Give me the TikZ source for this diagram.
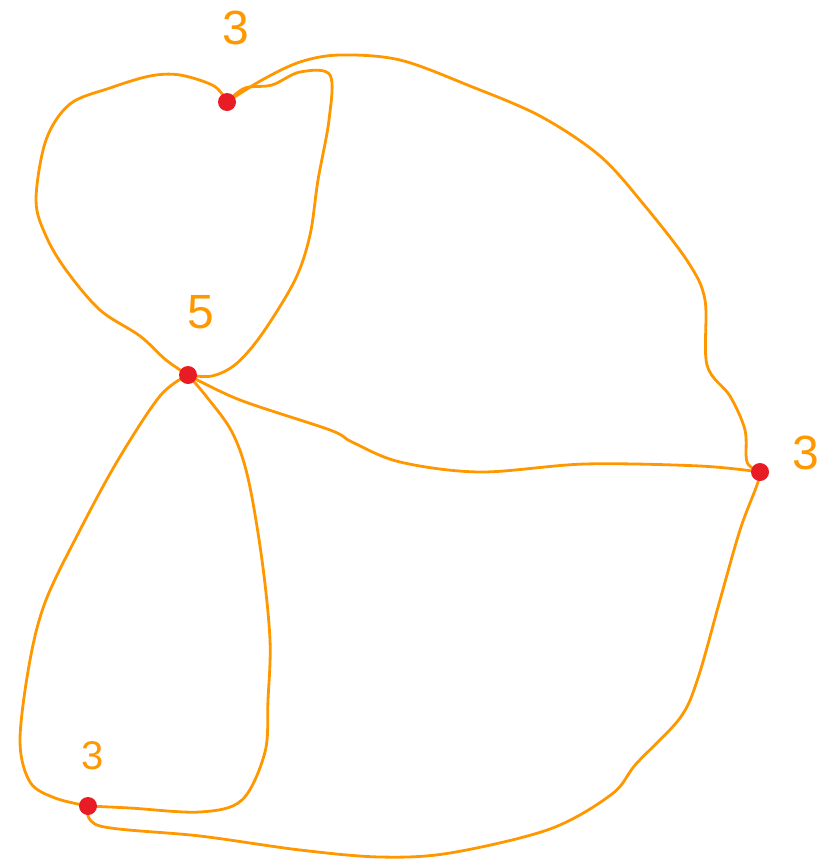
\documentclass[tikz,border=0pt]{standalone}
\usepackage{fontspec}
\setmainfont{Liberation Sans}
\usepackage{tikz}
\usetikzlibrary{positioning,backgrounds}
\definecolor{edgeOrange}{RGB}{255,152,0}
\definecolor{dotRed}{RGB}{232,28,36}

\begin{document}
\begin{tikzpicture}[
  x=1pt, y=-1pt,
  vtx/.style={circle, fill=dotRed, inner sep=0pt, minimum size=18pt},
  deg/.style={text=edgeOrange, font=\fontsize{48}{48}\selectfont},
  edge/.style={draw=edgeOrange, line width=2.8pt, line cap=round, line join=round}
]
\useasboundingbox (0,0) rectangle (838,863);

% Vertices
\node[vtx] (a) at (227,102) {};
\node[vtx] (b) at (188,375) {};
\node[vtx] (c) at (760,472) {};
\node[vtx] (d) at (88,806) {};

% Degrees
\node[deg] (la) at (236,28) {3};
\node[deg] (lb) at (201,312) {5};
\node[deg] (lc) at (806,453) {3};
\node[deg, font=\fontsize{40}{40}\selectfont] (ld) at (93,756) {3};

% Edges
\begin{scope}[on background layer]
\draw[edge] plot[smooth, tension=0.55] coordinates {(a.center) (214,86) (180,75) (150,76)
  (110,88) (70,104) (46,140) (36,200) (46,236) (66,270) (100,310) (140,336) (166,360) (b.center)};

\draw[edge] plot[smooth, tension=0.55] coordinates {(a.center) (245,88) (272,85) (300,72)
  (330,75) (329,120) (318,180) (310,235) (295,280) (262,334) (236,364) (212,376) (b.center)};

\draw[edge] plot[smooth, tension=0.55] coordinates {(a.center) (262,80) (300,62) (340,55)
  (400,60) (470,86) (540,116) (600,156) (645,206) (688,262) (705,300) (707,365) (730,396)
  (745,430) (747,462) (c.center)};

\draw[edge] plot[smooth, tension=0.55] coordinates {(b.center) (240,400) (330,430) (352,442)
  (400,462) (480,472) (585,464) (700,466) (c.center)};

\draw[edge] plot[smooth, tension=0.55] coordinates {(b.center) (160,396) (118,460) (80,530)
  (46,600) (30,660) (20,740) (30,782) (55,798) (d.center)};

\draw[edge] plot[smooth, tension=0.55] coordinates {(b.center) (206,396) (232,432) (248,478)
  (262,560) (270,640) (268,700) (265,752) (242,800) (200,812) (130,808) (d.center)};

\draw[edge] plot[smooth, tension=0.55] coordinates {(d.center) (100,826) (200,836) (300,850)
  (380,857) (450,853) (550,829) (612,794) (636,764) (680,718) (698,678) (720,600) (740,530)
  (757,485) (c.center)};
\end{scope}
\end{tikzpicture}
\end{document}
